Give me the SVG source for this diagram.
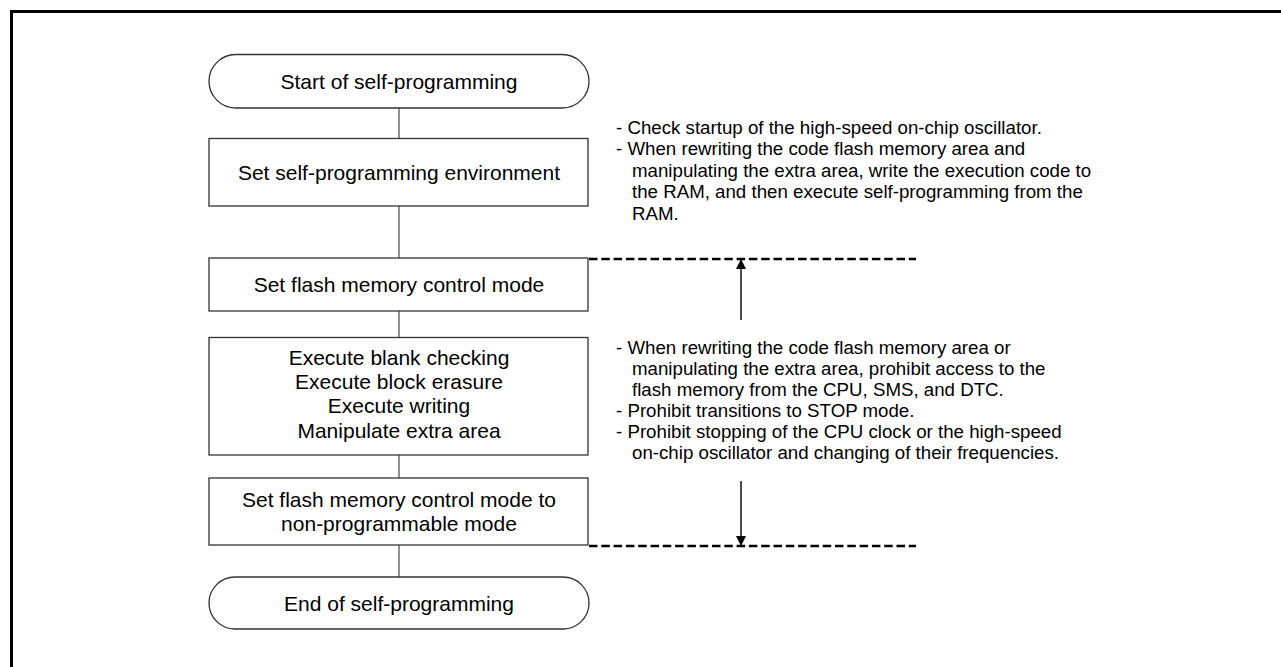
<svg xmlns="http://www.w3.org/2000/svg" width="1281" height="667" viewBox="0 0 1281 667">
<style>
.box{fill:#fff;stroke:#333;stroke-width:1.3}
.t{font-family:"Liberation Sans",Arial,sans-serif;font-size:21px;fill:#000;text-anchor:middle}
.n{font-family:"Liberation Sans",Arial,sans-serif;font-size:18.7px;fill:#000}
.c{stroke:#555;stroke-width:1.3;fill:none}
.d{stroke:#000;stroke-width:2.4;stroke-dasharray:8.5 3.8;fill:none}
.a{stroke:#000;stroke-width:1.4;fill:none}
</style>
<defs>
<marker id="ah" viewBox="0 0 10 10" refX="10" refY="5" markerWidth="11" markerHeight="10" markerUnits="userSpaceOnUse" orient="auto">
<path d="M0,0 L10,5 L0,10 z" fill="#000"/>
</marker>
</defs>
<rect width="1281" height="667" fill="#fff"/>
<path d="M11.5,667 V11.5 H1281" fill="none" stroke="#000" stroke-width="3"/>
<g id="connectors">
<line class="c" x1="399" y1="108" x2="399" y2="139"/>
<line class="c" x1="399" y1="206" x2="399" y2="258"/>
<line class="c" x1="399" y1="311" x2="399" y2="338"/>
<line class="c" x1="399" y1="455" x2="399" y2="478"/>
<line class="c" x1="399" y1="545" x2="399" y2="577"/>
<line class="d" x1="589" y1="259" x2="916" y2="259"/>
<line class="d" x1="589" y1="546" x2="916" y2="546"/>
<line class="a" x1="741" y1="320" x2="741" y2="259" marker-end="url(#ah)"/>
<line class="a" x1="741" y1="481" x2="741" y2="546" marker-end="url(#ah)"/>
</g>
<g id="start">
<rect class="box" x="209" y="54.5" width="380" height="53.5" rx="26.75" ry="26.75"/>
<text class="t" x="399" y="88.5">Start of self-programming</text>
</g>
<g id="env">
<rect class="box" x="209" y="138.5" width="379" height="67.5"/>
<text class="t" x="399" y="180">Set self-programming environment</text>
</g>
<g id="mode">
<rect class="box" x="209" y="258" width="379" height="53"/>
<text class="t" x="399" y="292">Set flash memory control mode</text>
</g>
<g id="exec">
<rect class="box" x="209" y="337.5" width="379" height="117.5"/>
<text class="t" x="399" y="364.5">Execute blank checking</text>
<text class="t" x="399" y="388.8">Execute block erasure</text>
<text class="t" x="399" y="413.1">Execute writing</text>
<text class="t" x="399" y="437.5">Manipulate extra area</text>
</g>
<g id="nonprog">
<rect class="box" x="209" y="478" width="379" height="67"/>
<text class="t" x="399" y="507">Set flash memory control mode to</text>
<text class="t" x="399" y="531">non-programmable mode</text>
</g>
<g id="end">
<rect class="box" x="209" y="577" width="380" height="52" rx="26" ry="26"/>
<text class="t" x="399" y="610.5">End of self-programming</text>
</g>
<g id="note1">
<text class="n" x="616" y="133.5">- Check startup of the high-speed on-chip oscillator.</text>
<text class="n" x="616" y="155">- When rewriting the code flash memory area and</text>
<text class="n" x="632" y="176.5">manipulating the extra area, write the execution code to</text>
<text class="n" x="632" y="198">the RAM, and then execute self-programming from the</text>
<text class="n" x="632" y="219.5">RAM.</text>
</g>
<g id="note2">
<text class="n" x="616" y="354">- When rewriting the code flash memory area or</text>
<text class="n" x="632" y="375">manipulating the extra area, prohibit access to the</text>
<text class="n" x="632" y="396">flash memory from the CPU, SMS, and DTC.</text>
<text class="n" x="616" y="417">- Prohibit transitions to STOP mode.</text>
<text class="n" x="616" y="438">- Prohibit stopping of the CPU clock or the high-speed</text>
<text class="n" x="632" y="459">on-chip oscillator and changing of their frequencies.</text>
</g>
</svg>
